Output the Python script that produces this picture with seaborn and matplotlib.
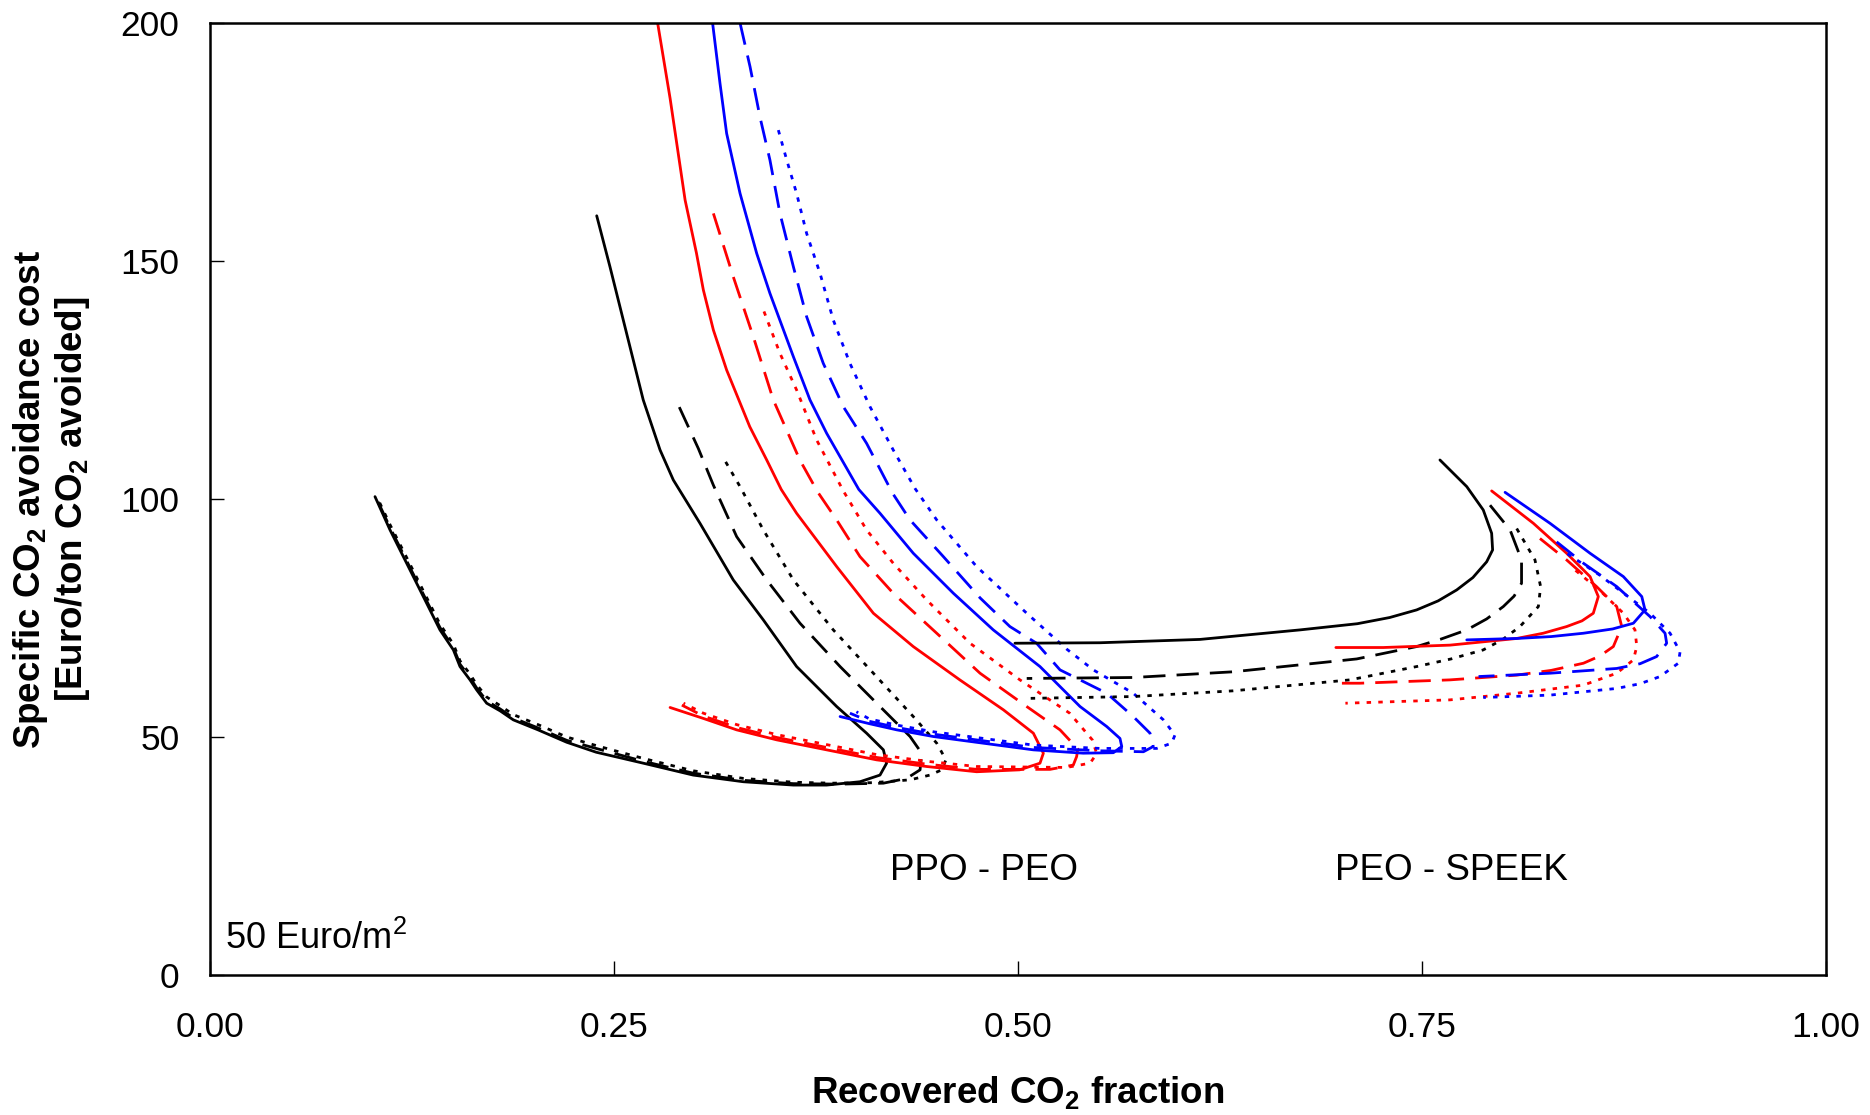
import numpy as np
import pandas as pd
import matplotlib
matplotlib.use("Agg")
import matplotlib.pyplot as plt
import seaborn as sns

# ---------------- data ----------------
# PPO - PEO curves (path: upper branch -> turning point -> lower branch)
ppo_black_solid_x = [0.2393, 0.2475, 0.2578, 0.2681, 0.2785, 0.2867, 0.3032, 0.3238, 0.3424, 0.3630, 0.3878, 0.4063, 0.4167, 0.4187, 0.4146, 0.4022, 0.3816, 0.3610, 0.3300, 0.2990, 0.2681, 0.2390, 0.2207, 0.2030, 0.1877, 0.1795, 0.1712, 0.1650, 0.1609, 0.1547, 0.1506, 0.1423, 0.1320, 0.1217, 0.1114, 0.1021]
ppo_black_solid_y = [159.5, 148.8, 134.8, 120.8, 110.3, 104.0, 94.9, 83.0, 74.6, 64.8, 56.4, 50.8, 47.3, 44.5, 42.0, 40.6, 39.9, 39.9, 40.6, 42.0, 44.5, 46.8, 48.9, 51.5, 53.6, 55.5, 57.1, 59.9, 62.0, 64.8, 68.3, 72.5, 79.5, 86.5, 93.5, 100.5]
ppo_black_dash_x = [0.2904, 0.3022, 0.3115, 0.3259, 0.3445, 0.3651, 0.3899, 0.4146, 0.4332, 0.4404, 0.4394, 0.4311, 0.4167, 0.3900, 0.3610, 0.3300, 0.2990, 0.2681, 0.2400, 0.2207, 0.2030, 0.1877, 0.1795, 0.1712, 0.1650, 0.1609, 0.1547, 0.1506, 0.1423, 0.1320, 0.1217, 0.1114, 0.1025]
ppo_black_dash_y = [119.3, 110.6, 102.9, 92.1, 83.0, 73.9, 64.8, 56.4, 50.1, 46.6, 43.1, 41.3, 40.3, 40.1, 40.2, 40.9, 42.4, 44.9, 47.5, 49.3, 51.9, 54.0, 55.9, 57.6, 60.3, 62.5, 65.3, 68.8, 73.0, 80.0, 87.0, 94.0, 100.5]
ppo_black_dot_x = [0.3191, 0.3280, 0.3424, 0.3610, 0.3857, 0.4105, 0.4352, 0.4497, 0.4554, 0.4528, 0.4455, 0.4332, 0.4100, 0.3850, 0.3610, 0.3300, 0.2990, 0.2681, 0.2400, 0.2207, 0.2030, 0.1877, 0.1795, 0.1712, 0.1650, 0.1609, 0.1547, 0.1506, 0.1423, 0.1320, 0.1217, 0.1114, 0.1035]
ppo_black_dot_y = [107.8, 102.6, 93.5, 83.0, 72.5, 63.4, 54.3, 48.7, 45.2, 43.1, 42.0, 41.0, 40.4, 40.3, 40.5, 41.3, 42.9, 45.5, 48.1, 50.0, 52.6, 54.7, 56.6, 58.4, 61.0, 63.2, 66.0, 69.5, 73.7, 80.7, 87.7, 94.6, 100.3]

ppo_red_solid_x = [0.2770, 0.2847, 0.2940, 0.3010, 0.3053, 0.3115, 0.3197, 0.3340, 0.3445, 0.3535, 0.3630, 0.3878, 0.4105, 0.4352, 0.4640, 0.4910, 0.5095, 0.5157, 0.5136, 0.5010, 0.4744, 0.4435, 0.4125, 0.3816, 0.3507, 0.3259, 0.3053, 0.2847]
ppo_red_solid_y = [200.0, 184.2, 162.8, 151.7, 143.9, 135.5, 127.1, 115.2, 108.2, 102.0, 97.0, 85.8, 76.0, 69.0, 62.0, 55.7, 50.8, 46.6, 44.5, 43.1, 42.7, 43.8, 45.2, 47.3, 49.4, 51.5, 53.9, 56.2]
ppo_red_dash_x = [0.3115, 0.3238, 0.3362, 0.3486, 0.3650, 0.3760, 0.3878, 0.4022, 0.4228, 0.4497, 0.4765, 0.5054, 0.5260, 0.5370, 0.5363, 0.5342, 0.5198, 0.4744, 0.4435, 0.4125, 0.3816, 0.3507, 0.3259, 0.3053, 0.2920]
ppo_red_dash_y = [160.0, 146.7, 134.1, 120.8, 108.2, 101.5, 95.6, 87.9, 80.2, 71.8, 63.4, 56.4, 51.5, 47.5, 45.9, 44.1, 43.2, 43.2, 44.3, 45.7, 47.8, 49.9, 52.0, 54.4, 56.7]
ppo_red_dot_x = [0.3428, 0.3527, 0.3630, 0.3754, 0.3919, 0.4063, 0.4228, 0.4435, 0.4703, 0.5012, 0.5320, 0.5460, 0.5487, 0.5446, 0.5300, 0.4744, 0.4435, 0.4125, 0.3816, 0.3507, 0.3259, 0.3053, 0.2930]
ppo_red_dot_y = [139.4, 130.6, 122.9, 112.4, 101.7, 93.5, 86.5, 78.8, 69.7, 62.0, 55.0, 49.4, 46.5, 44.5, 43.6, 43.8, 44.9, 46.3, 48.4, 50.5, 52.6, 55.0, 57.1]

ppo_blue_solid_x = [0.3110, 0.3156, 0.3197, 0.3280, 0.3383, 0.3465, 0.3610, 0.3713, 0.3816, 0.4015, 0.4146, 0.4352, 0.4600, 0.4847, 0.5136, 0.5384, 0.5549, 0.5631, 0.5642, 0.5590, 0.5404, 0.5095, 0.4785, 0.4476, 0.4250, 0.4080, 0.3899]
ppo_blue_solid_y = [200.0, 187.3, 176.8, 164.2, 151.6, 143.2, 129.9, 120.8, 113.8, 102.0, 97.0, 88.6, 80.2, 72.5, 64.8, 56.4, 52.2, 49.7, 48.0, 46.7, 46.6, 47.3, 48.7, 50.1, 51.5, 52.8, 54.3]
ppo_blue_dash_x = [0.3280, 0.3342, 0.3403, 0.3465, 0.3527, 0.3610, 0.3692, 0.3795, 0.3919, 0.4063, 0.4224, 0.4332, 0.4538, 0.4766, 0.4950, 0.5115, 0.5260, 0.5549, 0.5713, 0.5817, 0.5837, 0.5776, 0.5507, 0.5095, 0.4785, 0.4476, 0.4250, 0.4080, 0.3960]
ppo_blue_dash_y = [200.0, 190.8, 180.3, 171.2, 160.0, 148.8, 138.3, 128.5, 119.4, 111.7, 101.2, 95.6, 87.9, 79.2, 73.2, 69.7, 64.1, 59.2, 54.3, 50.8, 48.0, 46.9, 47.1, 47.8, 49.2, 50.6, 52.0, 53.3, 55.0]
ppo_blue_dot_x = [0.3517, 0.3569, 0.3630, 0.3692, 0.3775, 0.3857, 0.3960, 0.4084, 0.4228, 0.4363, 0.4497, 0.4744, 0.5054, 0.5300, 0.5466, 0.5713, 0.5900, 0.5971, 0.5951, 0.5858, 0.5507, 0.5095, 0.4785, 0.4476, 0.4250, 0.4080, 0.4000]
ppo_blue_dot_y = [177.5, 171.2, 164.2, 155.8, 147.4, 137.6, 128.5, 119.4, 110.3, 102.2, 95.6, 85.8, 76.0, 68.5, 64.1, 59.2, 53.6, 50.4, 48.7, 47.6, 47.6, 48.3, 49.7, 51.1, 52.5, 53.8, 55.3]

# PEO - SPEEK curves
speek_black_solid_x = [0.7611, 0.7777, 0.7879, 0.7931, 0.7937, 0.7900, 0.7815, 0.7715, 0.7600, 0.7467, 0.7300, 0.7100, 0.6745, 0.6126, 0.5507, 0.4981]
speek_black_solid_y = [108.2, 102.6, 97.7, 92.8, 89.3, 86.8, 83.5, 80.9, 78.6, 76.7, 75.1, 73.8, 72.5, 70.5, 69.8, 69.7]
speek_black_dash_x = [0.7921, 0.8045, 0.8116, 0.8116, 0.8070, 0.8003, 0.7900, 0.7777, 0.7620, 0.7467, 0.7096, 0.6332, 0.5714, 0.5054]
speek_black_dash_y = [98.7, 93.5, 87.2, 82.3, 79.6, 77.4, 74.8, 72.5, 70.6, 69.0, 66.4, 63.7, 62.5, 62.3]
speek_black_dot_x = [0.8086, 0.8199, 0.8234, 0.8220, 0.8106, 0.8000, 0.7879, 0.7680, 0.7467, 0.7054, 0.6332, 0.5714, 0.5043]
speek_black_dot_y = [93.8, 87.2, 81.6, 77.4, 73.2, 70.5, 68.3, 66.4, 64.8, 62.0, 59.7, 58.5, 58.1]

speek_red_solid_x = [0.7931, 0.8189, 0.8395, 0.8540, 0.8591, 0.8560, 0.8490, 0.8395, 0.8250, 0.8086, 0.7673, 0.7261, 0.6967]
speek_red_solid_y = [101.7, 94.9, 88.6, 83.7, 79.5, 76.0, 74.4, 73.2, 71.8, 70.7, 69.3, 68.8, 68.8]
speek_red_dash_x = [0.8230, 0.8395, 0.8580, 0.8705, 0.8736, 0.8684, 0.8600, 0.8499, 0.8300, 0.8086, 0.7673, 0.7116, 0.6967]
speek_red_dash_y = [91.7, 87.2, 81.6, 77.4, 73.2, 69.0, 67.0, 65.5, 64.0, 63.0, 62.0, 61.3, 61.3]
speek_red_dot_x = [0.8450, 0.8600, 0.8746, 0.8818, 0.8829, 0.8808, 0.8705, 0.8499, 0.8086, 0.7673, 0.7026]
speek_red_dot_y = [85.0, 80.8, 76.0, 72.5, 69.0, 66.2, 63.4, 60.9, 59.2, 57.8, 57.1]

speek_blue_solid_x = [0.8014, 0.8292, 0.8540, 0.8746, 0.8860, 0.8880, 0.8808, 0.8680, 0.8499, 0.8300, 0.8086, 0.7777]
speek_blue_solid_y = [101.4, 94.9, 88.6, 83.7, 79.5, 76.7, 73.9, 72.7, 71.8, 71.1, 70.7, 70.4]
speek_blue_dash_x = [0.8333, 0.8499, 0.8705, 0.8911, 0.9004, 0.9014, 0.8952, 0.8850, 0.8705, 0.8292, 0.7850]
speek_blue_dash_y = [91.0, 86.5, 81.6, 75.3, 71.8, 69.7, 66.9, 65.4, 64.4, 63.4, 62.7]
speek_blue_dot_x = [0.8400, 0.8600, 0.8911, 0.9035, 0.9097, 0.9086, 0.8973, 0.8850, 0.8705, 0.8292, 0.7879]
speek_blue_dot_y = [88.5, 84.0, 76.0, 71.8, 67.9, 65.5, 62.7, 61.2, 60.2, 58.8, 58.3]

x_ticks = [0.00, 0.25, 0.50, 0.75, 1.00]
x_tick_labels = ["0.00", "0.25", "0.50", "0.75", "1.00"]
y_ticks = [0, 50, 100, 150, 200]
y_tick_labels = ["0", "50", "100", "150", "200"]

# ---------------- styling ----------------
sns.set_theme(style="white")
plt.rcParams["font.family"] = ["Liberation Sans", "DejaVu Sans"]
plt.rcParams["mathtext.fontset"] = "custom"
plt.rcParams["mathtext.rm"] = "Liberation Sans"
plt.rcParams["mathtext.it"] = "Liberation Sans:italic"
plt.rcParams["mathtext.bf"] = "Liberation Sans:bold"
plt.rcParams["text.color"] = "black"
plt.rcParams["axes.labelcolor"] = "black"
plt.rcParams["xtick.color"] = "black"
plt.rcParams["ytick.color"] = "black"

BLACK, RED, BLUE = "#000000", "#FF0000", "#0000FF"
SOLID = "-"
DASH = (0, (8, 4))
DOT = (0, (1.6, 2.6))

curves = [
    (ppo_black_solid_x, ppo_black_solid_y, BLACK, SOLID),
    (ppo_black_dash_x, ppo_black_dash_y, BLACK, DASH),
    (ppo_black_dot_x, ppo_black_dot_y, BLACK, DOT),
    (ppo_red_solid_x, ppo_red_solid_y, RED, SOLID),
    (ppo_red_dash_x, ppo_red_dash_y, RED, DASH),
    (ppo_red_dot_x, ppo_red_dot_y, RED, DOT),
    (ppo_blue_solid_x, ppo_blue_solid_y, BLUE, SOLID),
    (ppo_blue_dash_x, ppo_blue_dash_y, BLUE, DASH),
    (ppo_blue_dot_x, ppo_blue_dot_y, BLUE, DOT),
    (speek_black_solid_x, speek_black_solid_y, BLACK, SOLID),
    (speek_black_dash_x, speek_black_dash_y, BLACK, DASH),
    (speek_black_dot_x, speek_black_dot_y, BLACK, DOT),
    (speek_red_solid_x, speek_red_solid_y, RED, SOLID),
    (speek_red_dash_x, speek_red_dash_y, RED, DASH),
    (speek_red_dot_x, speek_red_dot_y, RED, DOT),
    (speek_blue_solid_x, speek_blue_solid_y, BLUE, SOLID),
    (speek_blue_dash_x, speek_blue_dash_y, BLUE, DASH),
    (speek_blue_dot_x, speek_blue_dot_y, BLUE, DOT),
]

fig = plt.figure(figsize=(18.70, 11.15), dpi=100)
ax = fig.add_axes([210 / 1870, 1 - 975 / 1115, 1616 / 1870, 952 / 1115])

for cx, cy, col, ls in curves:
    df = pd.DataFrame({"x": cx, "y": cy})
    sns.lineplot(data=df, x="x", y="y", sort=False, estimator=None,
                 color=col, linestyle=ls, linewidth=2.0, ax=ax, legend=False)

ax.set_xlim(0, 1)
ax.set_ylim(0, 200)
ax.set_xticks(x_ticks)
ax.set_xticklabels(x_tick_labels)
ax.set_yticks(y_ticks)
ax.set_yticklabels(y_tick_labels)
ax.tick_params(axis="both", which="major", bottom=True, left=True, top=False, right=False,
               direction="in", length=10, width=1.0, color="black",
               labelsize=25.5, labelcolor="black")
ax.tick_params(axis="x", pad=26)
ax.tick_params(axis="y", pad=22)
for s in ax.spines.values():
    s.set_visible(True)
    s.set_color("black")
    s.set_linewidth(1.8)
ax.grid(False)
ax.set_facecolor("white")

ax.set_xlabel(r"Recovered CO$_\mathbf{2}$ fraction", fontsize=26.5, fontweight="bold", color="black")
ax.xaxis.set_label_coords(0.5, -0.104)
ax.set_ylabel("Specific CO$_\\mathbf{2}$ avoidance cost\n[Euro/ton CO$_\\mathbf{2}$ avoided]",
              fontsize=26.5, fontweight="bold", linespacing=1.1, color="black")
ax.yaxis.set_label_coords(-0.073, 0.5)

ax.text(0.479, 22, "PPO - PEO", fontsize=26.5, ha="center", va="center", color="black")
ax.text(0.768, 22, "PEO - SPEEK", fontsize=26.5, ha="center", va="center", color="black")
ax.text(0.009, 7.5, r"50 Euro/m$^2$", fontsize=26, ha="left", va="center", color="black")

fig.savefig("out.png", dpi=100, facecolor="white")
